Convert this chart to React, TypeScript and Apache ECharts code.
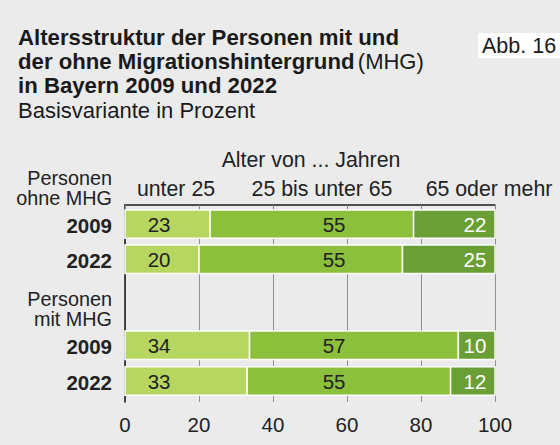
import React, { useEffect, useRef } from "react";
import * as echarts from "echarts";

// ---- data ----
const rowLabels = ["2009", "2022", "2009", "2022"];
const groupLabels = [
  ["Personen", "ohne MHG"],
  ["Personen", "mit MHG"],
];
const ageGroups = ["unter 25", "25 bis unter 65", "65 oder mehr"];
const under25 = [23, 20, 34, 33];
const from25to65 = [55, 55, 57, 55];
const over65 = [22, 25, 10, 12];
const xTickMin = 0;
const xTickMax = 100;
const xTickStep = 20;

// ---- layout (not data) ----
const ROW_POS = [0.54, 1.53, 3.95, 4.96];
const Y_MAX = 5.55;
const BAR_THICK = 0.8;
const LABEL_ANCHOR = [9.2, 56.5, 94.6];
const GROUP_LABEL_Y = [178, 299];
const COLORS = ["#B7D65F", "#8CBF3C", "#6A9F35"];
const LABEL_COLORS = ["#222222", "#222222", "#ffffff"];
const FONT = "'Liberation Sans', Arial, Helvetica, sans-serif";

const seriesValues = [under25, from25to65, over65];

function buildSeries() {
  return seriesValues.map((vals, s) => {
    const data = vals.map((v, i) => {
      const total = under25[i] + from25to65[i] + over65[i];
      let before = 0;
      for (let k = 0; k < s; k++) before += seriesValues[k][i];
      const start = (before / total) * 100;
      const end = ((before + v) / total) * 100;
      return [ROW_POS[i], start, end, v, i];
    });
    return {
      type: "custom",
      name: ageGroups[s],
      data,
      encode: { x: [1, 2], y: 0 },
      z: 3,
      renderItem: (params: any, api: any) => {
        const y = api.value(0);
        const x0 = api.value(1);
        const x1 = api.value(2);
        const v = api.value(3);
        const idx = api.value(4);
        const p0 = api.coord([x0, y]);
        const p1 = api.coord([x1, y]);
        const pl = api.coord([LABEL_ANCHOR[s], y]);
        const h = api.size([0, BAR_THICK])[1];
        const children: any[] = [
          {
            type: "rect",
            shape: { x: p0[0], y: p0[1] - h / 2, width: p1[0] - p0[0], height: h },
            style: { fill: COLORS[s], stroke: "#ffffff", lineWidth: 1.5 },
          },
          {
            type: "text",
            x: pl[0],
            y: pl[1],
            style: {
              text: String(v),
              fill: LABEL_COLORS[s],
              font: `20.5px ${FONT}`,
              align: "center",
              verticalAlign: "middle",
            },
            z2: 10,
          },
        ];
        if (s === 0) {
          children.push({
            type: "text",
            x: p0[0] - 13,
            y: p0[1] + 1,
            style: {
              text: rowLabels[idx],
              fill: "#222222",
              font: `bold 20.5px ${FONT}`,
              align: "right",
              verticalAlign: "middle",
            },
          });
        }
        return { type: "group", children };
      },
    };
  });
}

export default function App() {
  const ref = useRef<HTMLDivElement>(null);
  useEffect(() => {
    if (!ref.current) return;
    const chart = echarts.init(ref.current, null, { renderer: "svg" });
    const groupTexts: any[] = [];
    groupLabels.forEach((lines, g) => {
      lines.forEach((line, j) => {
        groupTexts.push({
          type: "text",
          x: 112,
          y: GROUP_LABEL_Y[g] + j * 20,
          style: {
            text: line,
            font: `19.8px ${FONT}`,
            fill: "#222222",
            align: "right",
            verticalAlign: "middle",
          },
        });
      });
    });
    const option: any = {
      animation: false,
      backgroundColor: "#EBEBEC",
      textStyle: { fontFamily: FONT },
      grid: { left: 125, right: 65, top: 205, bottom: 43 },
      xAxis: {
        type: "value",
        min: xTickMin,
        max: xTickMax,
        interval: xTickStep,
        axisLine: { show: true, lineStyle: { color: "#1a1a1a", width: 1.5 } },
        axisTick: { show: true, length: 7, lineStyle: { color: "#888888", width: 1 } },
        axisLabel: { color: "#222222", fontSize: 20.5, margin: 12, fontFamily: FONT },
        splitLine: { show: true, lineStyle: { color: "#8f8f8f", width: 1 } },
      },
      yAxis: {
        type: "value",
        min: 0,
        max: Y_MAX,
        inverse: true,
        axisLine: { show: true, lineStyle: { color: "#1a1a1a", width: 1.5 } },
        axisTick: { show: false },
        axisLabel: { show: false },
        splitLine: { show: false },
      },
      series: buildSeries(),
      graphic: [
        {
          type: "text",
          left: 18,
          top: 26,
          style: {
            text:
              "{b|Altersstruktur der Personen mit und}\n{b|der ohne Migrationshintergrund} {r|(MHG)}\n{b|in Bayern 2009 und 2022}\n{s|Basisvariante in Prozent}",
            rich: {
              b: { font: `bold 22.2px ${FONT}`, fill: "#1a1a1a", lineHeight: 24 },
              r: { font: `22px ${FONT}`, fill: "#1a1a1a", lineHeight: 24 },
              s: { font: `22px ${FONT}`, fill: "#1a1a1a", lineHeight: 27 },
            },
          },
        },
        {
          type: "rect",
          shape: { x: 478, y: 33, width: 82, height: 25 },
          style: { fill: "#ffffff" },
        },
        {
          type: "text",
          x: 482,
          y: 45.5,
          style: {
            text: "Abb. 16",
            font: `21.5px ${FONT}`,
            fill: "#1a1a1a",
            verticalAlign: "middle",
          },
        },
        {
          type: "text",
          x: 311,
          y: 160,
          style: {
            text: "Alter von ... Jahren",
            font: `21.3px ${FONT}`,
            fill: "#222222",
            align: "center",
            verticalAlign: "middle",
          },
        },
        ...ageGroups.map((t, i) => ({
          type: "text",
          x: [176, 322, 489][i],
          y: 189,
          style: {
            text: t,
            font: `21.3px ${FONT}`,
            fill: "#222222",
            align: "center",
            verticalAlign: "middle",
          },
        })),
        ...groupTexts,
      ],
    };
    chart.setOption(option);
    return () => chart.dispose();
  }, []);
  return (
    <div
      ref={ref}
      style={{ position: "absolute", left: 0, top: 0, width: 560, height: 445 }}
    />
  );
}
